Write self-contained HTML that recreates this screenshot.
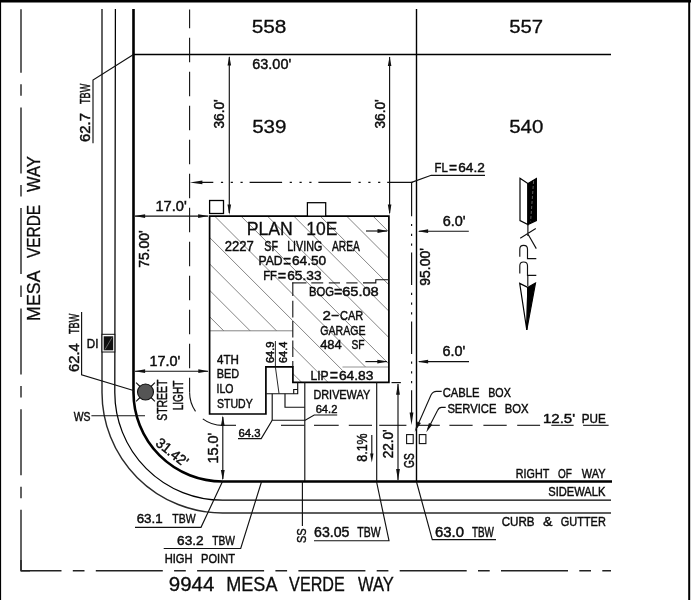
<!DOCTYPE html>
<html lang="en"><head><meta charset="utf-8"><title>Plot Plan - 9944 Mesa Verde Way</title>
<style>
html,body{margin:0;padding:0;background:#fff;}
body{width:691px;height:600px;overflow:hidden;}
svg{display:block;will-change:transform;}
svg text{font-family:"Liberation Sans",sans-serif;fill:#0c0c0c;stroke:#0c0c0c;stroke-width:0.45px;}
svg text.big{stroke-width:0.3px;}
</style></head><body>
<svg width="691" height="600" viewBox="0 0 691 600">
<rect width="691" height="600" fill="#fff"/>
<rect x="0" y="0" width="691" height="2.5" fill="#000"/>
<rect x="0" y="0" width="1.1" height="600" fill="#000"/>
<rect x="688.2" y="0" width="2" height="600" fill="#000"/>
<path d="M21 9.3 V570.8" stroke="#222" stroke-width="1.4" fill="none" stroke-dasharray="66 11.5 11.5 11.6" stroke-dashoffset="2.5"/>
<path d="M21 570.8 H611" stroke="#222" stroke-width="1.4" fill="none" stroke-dasharray="67 11.3 11.7 11.3" stroke-dashoffset="26.5"/>
<path d="M21 560 V570.8 H30" stroke="#222" stroke-width="1.4" fill="none"/>
<path d="M102 9 V392.5 A120.5 120.5 0 0 0 222.5 513.0 H611" stroke="#2a2a2a" stroke-width="1.45" fill="none"/>
<path d="M115.4 9 L114.8 392.5 A107.7 107.7 0 0 0 222.5 500.2 H611" stroke="#000" stroke-width="1.25" fill="none"/>
<path d="M133.5 9 V392.5 A89.0 89.0 0 0 0 222.5 481.5 H612" stroke="#000" stroke-width="2.6" fill="none"/>
<line x1="133.5" y1="54.5" x2="611" y2="54.5" stroke="#000" stroke-width="1.4"/>
<line x1="416.5" y1="9" x2="416.5" y2="481.5" stroke="#000" stroke-width="1.4"/>
<path d="M189.6 9.5 V392.5" stroke="#111" stroke-width="1.1" fill="none" stroke-dasharray="24.5 9.5" stroke-dashoffset="5.7"/>
<path d="M189.6 392.5 A32.900000000000006 32.900000000000006 0 0 0 222.5 425.4" stroke="#111" stroke-width="1.1" fill="none" stroke-dasharray="20 10.5 40"/>
<line x1="222.5" y1="425.3" x2="236" y2="425.3" stroke="#111" stroke-width="1.1"/>
<line x1="281" y1="425.3" x2="304.5" y2="425.3" stroke="#111" stroke-width="1.1"/>
<line x1="314" y1="425.3" x2="338.7" y2="425.3" stroke="#111" stroke-width="1.1"/>
<line x1="348.8" y1="425.3" x2="372" y2="425.3" stroke="#111" stroke-width="1.1"/>
<line x1="379.2" y1="425.3" x2="406.4" y2="425.3" stroke="#111" stroke-width="1.1"/>
<line x1="416" y1="425.3" x2="439.8" y2="425.3" stroke="#111" stroke-width="1.1"/>
<line x1="449.4" y1="425.3" x2="472.6" y2="425.3" stroke="#111" stroke-width="1.1"/>
<line x1="483.4" y1="425.3" x2="506.7" y2="425.3" stroke="#111" stroke-width="1.1"/>
<line x1="517.2" y1="425.3" x2="540.1" y2="425.3" stroke="#111" stroke-width="1.1"/>
<line x1="551.3" y1="425.3" x2="573.6" y2="425.3" stroke="#111" stroke-width="1.1"/>
<line x1="583.1" y1="425.3" x2="608.6" y2="425.3" stroke="#111" stroke-width="1.1"/>
<path d="M201 182.4 H412.6" stroke="#111" stroke-width="1.15" fill="none" stroke-dasharray="32.5 7.6 2.2 7.6 2.2 7.6 2.2 6.9" stroke-dashoffset="20.2"/>
<polygon points="189.80,182.40 202.40,180.60 202.40,184.20" fill="#111"/>
<path d="M411.6 182.4 L431.2 175.3 H485" stroke="#111" stroke-width="1.15" fill="none"/>
<path d="M411.6 182.4 V184 M411.6 183.8 V414" stroke="#111" stroke-width="1.15" fill="none" stroke-dasharray="32.5 7.6 2.2 7.6 2.2 7.6 2.2 6.9"/>
<polygon points="411.50,425.00 409.60,412.50 413.40,412.50" fill="#111"/>
<clipPath id="hc"><path d="M209.6 216 H388.9 V367 H342.5 V382 H292.9 V331 H209.6 Z"/></clipPath>
<path d="M3.3 216 l180 180 M29.7 216 l180 180 M56.1 216 l180 180 M82.5 216 l180 180 M108.9 216 l180 180 M135.3 216 l180 180 M161.7 216 l180 180 M188.1 216 l180 180 M214.5 216 l180 180 M240.9 216 l180 180 M267.3 216 l180 180 M293.7 216 l180 180 M320.1 216 l180 180 M346.5 216 l180 180 M372.9 216 l180 180 M399.3 216 l180 180" stroke="#666" stroke-width="0.8" fill="none" clip-path="url(#hc)"/>
<line x1="209.6" y1="330.8" x2="292.9" y2="330.8" stroke="#777" stroke-width="0.9"/>
<line x1="342.5" y1="367" x2="388" y2="367" stroke="#888" stroke-width="0.9"/>
<path d="M209.6 216.1 H388.9 V382.4 H292.9 V366.8 H265.9 V414 H209.6 Z" stroke="#000" stroke-width="1.7" fill="none"/>
<path d="M363 282.9 H375.8 V279.8 H389" stroke="#111" stroke-width="1.1" fill="none"/>
<line x1="292.2" y1="282.9" x2="306.5" y2="282.9" stroke="#111" stroke-width="1.1"/>
<line x1="311.3" y1="282.9" x2="323.2" y2="282.9" stroke="#111" stroke-width="1.1"/>
<line x1="328.8" y1="282.9" x2="340" y2="282.9" stroke="#111" stroke-width="1.1"/>
<line x1="346.3" y1="282.9" x2="357.5" y2="282.9" stroke="#111" stroke-width="1.1"/>
<line x1="292.8" y1="282.4" x2="292.8" y2="296" stroke="#111" stroke-width="1.1"/>
<line x1="292.8" y1="300.7" x2="292.8" y2="317.5" stroke="#111" stroke-width="1.1"/>
<line x1="292.8" y1="321" x2="292.8" y2="337.4" stroke="#111" stroke-width="1.1"/>
<line x1="292.8" y1="340.5" x2="292.8" y2="357" stroke="#111" stroke-width="1.1"/>
<line x1="292.8" y1="361" x2="292.8" y2="367" stroke="#111" stroke-width="1.1"/>
<rect x="209.6" y="200.5" width="13.9" height="13" fill="#fff" stroke="#000" stroke-width="1.3"/>
<rect x="307.4" y="202.7" width="18.3" height="13.4" fill="#fff" stroke="#000" stroke-width="1.25"/>
<path d="M266.2 393.7 H297.7 V382" stroke="#111" stroke-width="1.15" fill="none"/>
<path d="M293.7 393.7 V389.5 H297.7" stroke="#111" stroke-width="1.15" fill="none"/>
<path d="M285 393.7 V407.2 H304.8" stroke="#111" stroke-width="1.15" fill="none"/>
<line x1="304.8" y1="382" x2="304.8" y2="481" stroke="#111" stroke-width="1.15"/>
<line x1="376.7" y1="382" x2="376.7" y2="481" stroke="#111" stroke-width="1.15"/>
<path d="M275.4 341 V367 L279 393.5" stroke="#111" stroke-width="0.9" fill="none"/>
<path d="M272.2 393.7 V420.2 H305.2 L314.2 415 H337.2" stroke="#111" stroke-width="1.15" fill="none"/>
<path d="M272.2 420.2 L261.2 438.6 H238" stroke="#111" stroke-width="1.15" fill="none"/>
<line x1="302.4" y1="481" x2="302.4" y2="526" stroke="#111" stroke-width="1.15"/>
<line x1="229.3" y1="57" x2="229.3" y2="213" stroke="#111" stroke-width="1.15"/>
<polygon points="229.30,56.00 227.50,65.50 231.10,65.50" fill="#111"/>
<polygon points="229.30,215.00 227.50,204.50 231.10,204.50" fill="#111"/>
<line x1="389.6" y1="57" x2="389.6" y2="213" stroke="#111" stroke-width="1.15"/>
<polygon points="389.60,56.40 387.80,65.90 391.40,65.90" fill="#111"/>
<polygon points="389.60,215.00 387.80,204.50 391.40,204.50" fill="#111"/>
<line x1="135" y1="216.1" x2="208" y2="216.1" stroke="#111" stroke-width="1.15"/>
<polygon points="134.60,216.10 145.10,214.20 145.10,218.00" fill="#111"/>
<polygon points="208.60,216.10 198.10,214.20 198.10,218.00" fill="#111"/>
<line x1="135" y1="371.2" x2="208" y2="371.2" stroke="#111" stroke-width="1.15"/>
<polygon points="134.60,371.20 145.10,369.30 145.10,373.10" fill="#111"/>
<polygon points="208.80,371.20 198.30,369.30 198.30,373.10" fill="#111"/>
<line x1="366" y1="231" x2="387" y2="231" stroke="#111" stroke-width="1.15"/>
<polygon points="388.00,231.00 377.50,229.10 377.50,232.90" fill="#111"/>
<line x1="419" y1="231.2" x2="468.8" y2="231.2" stroke="#111" stroke-width="1.15"/>
<polygon points="417.60,231.20 428.10,229.30 428.10,233.10" fill="#111"/>
<line x1="365.4" y1="361.6" x2="387" y2="361.6" stroke="#111" stroke-width="1.15"/>
<polygon points="387.80,361.60 377.30,359.70 377.30,363.50" fill="#111"/>
<line x1="419" y1="361.6" x2="469" y2="361.6" stroke="#111" stroke-width="1.15"/>
<polygon points="417.60,361.60 428.10,359.70 428.10,363.50" fill="#111"/>
<line x1="222.8" y1="417" x2="222.8" y2="479" stroke="#111" stroke-width="1.15"/>
<polygon points="222.80,415.60 220.90,426.10 224.70,426.10" fill="#111"/>
<polygon points="222.80,480.40 220.90,469.90 224.70,469.90" fill="#111"/>
<line x1="398" y1="384" x2="398" y2="480" stroke="#111" stroke-width="1.15"/>
<polygon points="398.00,383.20 396.10,394.70 399.90,394.70" fill="#111"/>
<polygon points="398.00,480.60 396.10,469.10 399.90,469.10" fill="#111"/>
<line x1="391.5" y1="382.6" x2="400.9" y2="382.6" stroke="#111" stroke-width="1.15"/>
<line x1="371.8" y1="435" x2="371.8" y2="455" stroke="#111" stroke-width="1.15"/>
<polygon points="371.80,462.50 370.10,453.50 373.50,453.50" fill="#111"/>
<path d="M133.5 54.5 L93 80 V143.3" stroke="#111" stroke-width="1.15" fill="none"/>
<path d="M81.6 312 V374.8 L133.5 390.5" stroke="#111" stroke-width="1.15" fill="none"/>
<line x1="91.4" y1="415.7" x2="145" y2="415.7" stroke="#111" stroke-width="1.15"/>
<path d="M135 527.3 H201 L222.5 481.5" stroke="#111" stroke-width="1.15" fill="none"/>
<path d="M163.7 548.5 H240.7 L261.6 481.5" stroke="#111" stroke-width="1.15" fill="none"/>
<path d="M314 540.7 H389 L376.5 481.5" stroke="#111" stroke-width="1.15" fill="none"/>
<path d="M416.4 481.5 L432.3 539.6 H496" stroke="#111" stroke-width="1.15" fill="none"/>
<path d="M441.7 391.4 H436.5 Q433 391.4 431 395 L416.5 428" stroke="#111" stroke-width="1.1" fill="none"/>
<polygon points="414.70,431.70 417.42,421.38 420.87,422.99" fill="#111"/>
<path d="M445.7 407.4 H441.5 Q439 407.4 437.5 410.5 L428 429" stroke="#111" stroke-width="1.1" fill="none"/>
<polygon points="426.30,432.30 428.94,422.98 432.32,424.71" fill="#111"/>
<rect x="406.6" y="434.6" width="6.6" height="9" fill="none" stroke="#111" stroke-width="1.1"/>
<rect x="419.3" y="434.6" width="6.6" height="9" fill="none" stroke="#111" stroke-width="1.1"/>
<rect x="102" y="334.3" width="12.8" height="17.7" fill="#fff" stroke="#111" stroke-width="1"/>
<rect x="103.7" y="336.3" width="9.5" height="14" fill="#111"/>
<line x1="105" y1="349.5" x2="112" y2="337.5" stroke="#888" stroke-width="0.7"/>
<line x1="136.1" y1="382.6" x2="140.5" y2="387" stroke="#111" stroke-width="1.15"/>
<line x1="154.9" y1="382.6" x2="150.5" y2="387" stroke="#111" stroke-width="1.15"/>
<line x1="136.1" y1="401.4" x2="140.5" y2="397" stroke="#111" stroke-width="1.15"/>
<line x1="154.9" y1="401.4" x2="150.5" y2="397" stroke="#111" stroke-width="1.15"/>
<circle cx="145.5" cy="392" r="8" fill="#555" stroke="#111" stroke-width="1.1"/>
<path d="M520 178.3 L527.9 183.5 V224.6 L520 220.6 Z" stroke="#000" stroke-width="1.2" fill="#fff"/>
<path d="M536.4 178.5 L527.9 183.5 V224.6 L536.4 220.6 Z" stroke="#000" stroke-width="1.15" fill="#000"/>
<path d="M533.6 181 L530.6 221.5" stroke="#bbb" stroke-width="0.5" fill="none" stroke-dasharray="3 2"/>
<path d="M527.9 224 V236 M535.8 228.6 L520.2 238.2 M527.9 234 L536.3 248.6" stroke="#111" stroke-width="1.15" fill="none"/>
<path d="M519.8 256.8 V249.2 Q519.8 245.4 523.6 245.4 Q527.5 245.4 527.5 249.2 V258.6 H536.3" stroke="#111" stroke-width="1.15" fill="none"/>
<path d="M519.8 273.4 V265.8 Q519.8 262 523.6 262 Q527.5 262 527.5 265.8 V275.3 H536.3" stroke="#111" stroke-width="1.15" fill="none"/>
<path d="M527.8 275.3 V286" stroke="#111" stroke-width="1.15" fill="none"/>
<path d="M519.7 283.4 L527.8 287.4 L526.8 330 Z" stroke="#000" stroke-width="1.2" fill="#fff"/>
<path d="M535.5 283 L527.8 287.4 L526.8 330 Z" stroke="#000" stroke-width="1.15" fill="#000"/>
<text class="big" font-size="18.44"><tspan x="251.67" y="33.00" textLength="34.74" lengthAdjust="spacingAndGlyphs">558</tspan></text>
<text class="big" font-size="18.44"><tspan x="509.19" y="33.00" textLength="33.90" lengthAdjust="spacingAndGlyphs">557</tspan></text>
<text class="big" font-size="18.44"><tspan x="252.18" y="132.50" textLength="34.32" lengthAdjust="spacingAndGlyphs">539</tspan></text>
<text class="big" font-size="18.44"><tspan x="509.18" y="132.50" textLength="34.10" lengthAdjust="spacingAndGlyphs">540</tspan></text>
<text font-size="14.18"><tspan x="252.28" y="69.00" textLength="38.92" lengthAdjust="spacingAndGlyphs">63.00'</tspan></text>
<text class="big" font-size="18.72"><tspan x="246.69" y="235.20" textLength="46.17" lengthAdjust="spacingAndGlyphs">PLAN</tspan> <tspan x="306.29" y="235.20" textLength="31.09" lengthAdjust="spacingAndGlyphs">10E</tspan></text>
<text font-size="14.04"><tspan x="224.75" y="250.90" textLength="29.10" lengthAdjust="spacingAndGlyphs">2227</tspan> <tspan x="264.32" y="250.90" textLength="13.64" lengthAdjust="spacingAndGlyphs">SF</tspan> <tspan x="287.14" y="250.90" textLength="35.15" lengthAdjust="spacingAndGlyphs">LIVING</tspan> <tspan x="332.00" y="250.90" textLength="27.73" lengthAdjust="spacingAndGlyphs">AREA</tspan></text>
<text font-size="13.62"><tspan x="258.53" y="265.40" textLength="24.15" lengthAdjust="spacingAndGlyphs">PAD</tspan><tspan x="283.13" y="266.92" font-size="17.70" textLength="7.83" lengthAdjust="spacingAndGlyphs">=</tspan><tspan x="291.91" y="265.40" textLength="34.30" lengthAdjust="spacingAndGlyphs">64.50</tspan></text>
<text font-size="13.33"><tspan x="263.21" y="279.50" textLength="13.66" lengthAdjust="spacingAndGlyphs">FF</tspan><tspan x="277.78" y="280.99" font-size="17.33" textLength="8.43" lengthAdjust="spacingAndGlyphs">=</tspan><tspan x="287.21" y="279.50" textLength="34.37" lengthAdjust="spacingAndGlyphs">65.33</tspan></text>
<text font-size="13.19"><tspan x="309.10" y="295.60" textLength="25.02" lengthAdjust="spacingAndGlyphs">BOG</tspan><tspan x="333.89" y="297.07" font-size="17.15" textLength="8.31" lengthAdjust="spacingAndGlyphs">=</tspan><tspan x="342.17" y="295.60" textLength="36.55" lengthAdjust="spacingAndGlyphs">65.08</tspan></text>
<text font-size="13.19"><tspan x="322.54" y="320.10" textLength="8.43" lengthAdjust="spacingAndGlyphs">2</tspan><tspan x="330.72" y="318.78" textLength="8.70" lengthAdjust="spacingAndGlyphs">-</tspan><tspan x="340.05" y="320.10" textLength="23.26" lengthAdjust="spacingAndGlyphs">CAR</tspan></text>
<text font-size="13.05"><tspan x="320.27" y="334.50" textLength="45.19" lengthAdjust="spacingAndGlyphs">GARAGE</tspan></text>
<text font-size="13.33"><tspan x="320.14" y="348.80" textLength="21.59" lengthAdjust="spacingAndGlyphs">484</tspan> <tspan x="351.54" y="348.80" textLength="13.10" lengthAdjust="spacingAndGlyphs">SF</tspan></text>
<text font-size="13.62"><tspan x="310.53" y="379.60" textLength="18.19" lengthAdjust="spacingAndGlyphs">LIP</tspan><tspan x="329.69" y="381.12" font-size="17.70" textLength="8.31" lengthAdjust="spacingAndGlyphs">=</tspan><tspan x="338.91" y="379.60" textLength="34.58" lengthAdjust="spacingAndGlyphs">64.83</tspan></text>
<text font-size="13.19"><tspan x="313.43" y="399.30" textLength="56.72" lengthAdjust="spacingAndGlyphs">DRIVEWAY</tspan></text>
<text font-size="12.91"><tspan x="217.07" y="363.80" textLength="21.91" lengthAdjust="spacingAndGlyphs">4TH</tspan></text>
<text font-size="12.91"><tspan x="216.63" y="378.30" textLength="22.37" lengthAdjust="spacingAndGlyphs">BED</tspan></text>
<text font-size="12.91"><tspan x="216.55" y="392.50" textLength="16.94" lengthAdjust="spacingAndGlyphs">ILO</tspan></text>
<text font-size="12.91"><tspan x="217.03" y="407.50" textLength="35.73" lengthAdjust="spacingAndGlyphs">STUDY</tspan></text>
<text font-size="11.21"><tspan x="315.64" y="412.50" textLength="21.73" lengthAdjust="spacingAndGlyphs">64.2</tspan></text>
<text font-size="11.49"><tspan x="238.43" y="436.70" textLength="22.03" lengthAdjust="spacingAndGlyphs">64.3</tspan></text>
<text font-size="13.33"><tspan x="434.59" y="171.80" textLength="13.27" lengthAdjust="spacingAndGlyphs">FL</tspan><tspan x="449.11" y="173.29" font-size="17.33" textLength="8.07" lengthAdjust="spacingAndGlyphs">=</tspan><tspan x="458.22" y="171.80" textLength="26.58" lengthAdjust="spacingAndGlyphs">64.2</tspan></text>
<text font-size="13.76"><tspan x="442.68" y="225.70" textLength="22.86" lengthAdjust="spacingAndGlyphs">6.0'</tspan></text>
<text font-size="13.76"><tspan x="442.48" y="356.20" textLength="22.75" lengthAdjust="spacingAndGlyphs">6.0'</tspan></text>
<text font-size="14.18"><tspan x="155.40" y="211.00" textLength="31.37" lengthAdjust="spacingAndGlyphs">17.0'</tspan></text>
<text font-size="13.76"><tspan x="149.42" y="366.00" textLength="30.84" lengthAdjust="spacingAndGlyphs">17.0'</tspan></text>
<text font-size="13.33"><tspan x="442.64" y="397.00" textLength="36.76" lengthAdjust="spacingAndGlyphs">CABLE</tspan> <tspan x="488.24" y="397.00" textLength="22.59" lengthAdjust="spacingAndGlyphs">BOX</tspan></text>
<text font-size="13.48"><tspan x="447.39" y="412.80" textLength="49.08" lengthAdjust="spacingAndGlyphs">SERVICE</tspan> <tspan x="504.70" y="412.80" textLength="23.85" lengthAdjust="spacingAndGlyphs">BOX</tspan></text>
<text font-size="13.62"><tspan x="542.97" y="422.60" textLength="32.11" lengthAdjust="spacingAndGlyphs">12.5'</tspan> <tspan x="581.67" y="422.60" textLength="24.02" lengthAdjust="spacingAndGlyphs">PUE</tspan></text>
<text font-size="13.19"><tspan x="515.85" y="478.30" textLength="33.18" lengthAdjust="spacingAndGlyphs">RIGHT</tspan> <tspan x="557.95" y="478.30" textLength="13.83" lengthAdjust="spacingAndGlyphs">OF</tspan> <tspan x="581.75" y="478.30" textLength="23.79" lengthAdjust="spacingAndGlyphs">WAY</tspan></text>
<text font-size="13.19"><tspan x="548.30" y="495.80" textLength="57.12" lengthAdjust="spacingAndGlyphs">SIDEWALK</tspan></text>
<text font-size="13.33"><tspan x="501.72" y="525.80" textLength="32.90" lengthAdjust="spacingAndGlyphs">CURB</tspan> <tspan x="543.10" y="525.80" textLength="9.44" lengthAdjust="spacingAndGlyphs">&amp;</tspan> <tspan x="560.75" y="525.80" textLength="45.05" lengthAdjust="spacingAndGlyphs">GUTTER</tspan></text>
<text font-size="13.76"><tspan x="435.06" y="537.00" textLength="28.99" lengthAdjust="spacingAndGlyphs">63.0</tspan> <tspan x="471.90" y="537.00" textLength="21.91" lengthAdjust="spacingAndGlyphs">TBW</tspan></text>
<text font-size="14.04"><tspan x="314.09" y="537.40" textLength="35.41" lengthAdjust="spacingAndGlyphs">63.05</tspan> <tspan x="357.29" y="537.40" textLength="23.43" lengthAdjust="spacingAndGlyphs">TBW</tspan></text>
<text font-size="13.62"><tspan x="136.63" y="523.40" textLength="26.09" lengthAdjust="spacingAndGlyphs">63.1</tspan> <tspan x="172.29" y="523.40" textLength="23.33" lengthAdjust="spacingAndGlyphs">TBW</tspan></text>
<text font-size="13.19"><tspan x="177.12" y="544.80" textLength="26.58" lengthAdjust="spacingAndGlyphs">63.2</tspan> <tspan x="212.30" y="544.80" textLength="22.72" lengthAdjust="spacingAndGlyphs">TBW</tspan></text>
<text font-size="12.77"><tspan x="164.71" y="562.80" textLength="27.88" lengthAdjust="spacingAndGlyphs">HIGH</tspan> <tspan x="201.11" y="562.80" textLength="33.81" lengthAdjust="spacingAndGlyphs">POINT</tspan></text>
<text class="big" font-size="19.29"><tspan x="168.78" y="590.80" textLength="45.63" lengthAdjust="spacingAndGlyphs">9944</tspan> <tspan x="226.28" y="590.80" textLength="50.19" lengthAdjust="spacingAndGlyphs">MESA</tspan> <tspan x="289.12" y="590.80" textLength="55.63" lengthAdjust="spacingAndGlyphs">VERDE</tspan> <tspan x="357.92" y="590.80" textLength="35.84" lengthAdjust="spacingAndGlyphs">WAY</tspan></text>
<text font-size="12.77"><tspan x="86.87" y="347.50" textLength="11.64" lengthAdjust="spacingAndGlyphs">DI</tspan></text>
<text font-size="12.48"><tspan x="73.75" y="420.80" textLength="16.73" lengthAdjust="spacingAndGlyphs">WS</tspan></text>
<text transform="translate(89.50 0) rotate(-90)" font-size="13.76"><tspan x="-141.94" y="0.00" textLength="28.90" lengthAdjust="spacingAndGlyphs">62.7</tspan> <tspan x="-103.98" y="0.00" textLength="20.20" lengthAdjust="spacingAndGlyphs">TBW</tspan></text>
<text class="big" transform="translate(39.80 0) rotate(-90)" font-size="19.15"><tspan x="-320.90" y="0.00" textLength="49.47" lengthAdjust="spacingAndGlyphs">MESA</tspan> <tspan x="-258.08" y="0.00" textLength="53.20" lengthAdjust="spacingAndGlyphs">VERDE</tspan> <tspan x="-192.08" y="0.00" textLength="35.84" lengthAdjust="spacingAndGlyphs">WAY</tspan></text>
<text transform="translate(224.00 0) rotate(-90)" font-size="14.18"><tspan x="-128.55" y="0.00" textLength="29.26" lengthAdjust="spacingAndGlyphs">36.0'</tspan></text>
<text transform="translate(384.50 0) rotate(-90)" font-size="14.89"><tspan x="-128.55" y="0.00" textLength="29.26" lengthAdjust="spacingAndGlyphs">36.0'</tspan></text>
<text transform="translate(149.00 0) rotate(-90)" font-size="14.89"><tspan x="-267.69" y="0.00" textLength="37.37" lengthAdjust="spacingAndGlyphs">75.00'</tspan></text>
<text transform="translate(430.00 0) rotate(-90)" font-size="15.18"><tspan x="-285.63" y="0.00" textLength="37.50" lengthAdjust="spacingAndGlyphs">95.00'</tspan></text>
<text transform="translate(78.50 0) rotate(-90)" font-size="14.89"><tspan x="-371.93" y="0.00" textLength="28.59" lengthAdjust="spacingAndGlyphs">62.4</tspan> <tspan x="-333.98" y="0.00" textLength="20.20" lengthAdjust="spacingAndGlyphs">TBW</tspan></text>
<text transform="translate(167.30 0) rotate(-90)" font-size="14.33"><tspan x="-420.77" y="0.00" textLength="41.18" lengthAdjust="spacingAndGlyphs">STREET</tspan></text>
<text transform="translate(182.60 0) rotate(-90)" font-size="14.33"><tspan x="-410.31" y="0.00" textLength="29.71" lengthAdjust="spacingAndGlyphs">LIGHT</tspan></text>
<text transform="translate(273.60 0) rotate(-90)" font-size="10.50"><tspan x="-363.05" y="0.00" textLength="21.57" lengthAdjust="spacingAndGlyphs">64.9</tspan></text>
<text transform="translate(286.80 0) rotate(-90)" font-size="10.64"><tspan x="-363.05" y="0.00" textLength="21.39" lengthAdjust="spacingAndGlyphs">64.4</tspan></text>
<text transform="translate(218.00 0) rotate(-90)" font-size="14.18"><tspan x="-463.58" y="0.00" textLength="30.84" lengthAdjust="spacingAndGlyphs">15.0'</tspan></text>
<text transform="translate(367.20 0) rotate(-90)" font-size="14.04"><tspan x="-461.76" y="0.00" textLength="28.39" lengthAdjust="spacingAndGlyphs">8.1%</tspan></text>
<text transform="translate(393.40 0) rotate(-90)" font-size="14.75"><tspan x="-458.18" y="0.00" textLength="28.88" lengthAdjust="spacingAndGlyphs">22.0'</tspan></text>
<text transform="translate(414.00 0) rotate(-90)" font-size="13.76"><tspan x="-468.01" y="0.00" textLength="14.66" lengthAdjust="spacingAndGlyphs">GS</tspan></text>
<text transform="translate(306.20 0) rotate(-90)" font-size="12.48"><tspan x="-543.10" y="0.00" textLength="14.74" lengthAdjust="spacingAndGlyphs">SS</tspan></text>
<text transform="translate(155.20 445.00) rotate(38.46) scale(0.9505 1) translate(-0.57 0)" font-size="14.29">31.42'</text>
</svg>
</body></html>
